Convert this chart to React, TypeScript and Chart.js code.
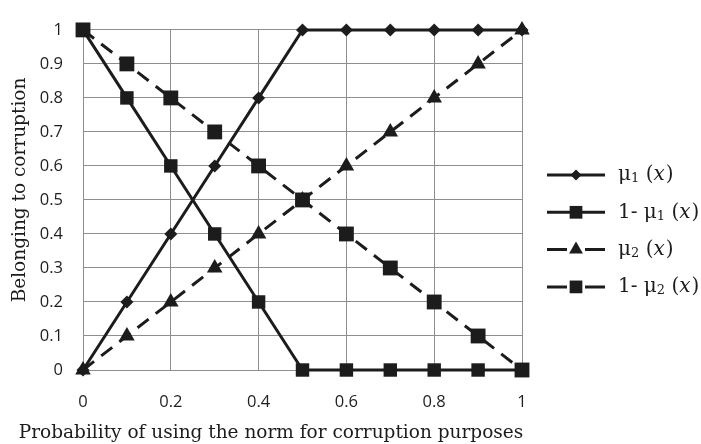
import React, { useEffect, useRef } from 'react';
import { Chart, registerables } from 'chart.js';

Chart.register(...registerables);

const xValues = [0, 0.1, 0.2, 0.3, 0.4, 0.5, 0.6, 0.7, 0.8, 0.9, 1];
const mu1 = [0, 0.2, 0.4, 0.6, 0.8, 1, 1, 1, 1, 1, 1];
const oneMinusMu1 = [1, 0.8, 0.6, 0.4, 0.2, 0, 0, 0, 0, 0, 0];
const mu2 = [0, 0.1, 0.2, 0.3, 0.4, 0.5, 0.6, 0.7, 0.8, 0.9, 1];
const oneMinusMu2 = [1, 0.9, 0.8, 0.7, 0.6, 0.5, 0.4, 0.3, 0.2, 0.1, 0];
const xTicks = [0, 0.2, 0.4, 0.6, 0.8, 1];
const yTicks = [0, 0.1, 0.2, 0.3, 0.4, 0.5, 0.6, 0.7, 0.8, 0.9, 1];
const legendPrefixes = ['', '1- ', '', '1- '];
const legendSubs = ['1', '1', '2', '2'];
const xTitle = 'Probability of using the norm for corruption purposes';
const yTitle = 'Belonging to corruption';

const INK = '#1c1c1c';
const GRID = '#8e8e8e';
const SERIF = '"DejaVu Serif", serif';

function drawMarker(ctx: CanvasRenderingContext2D, style: string, x: number, y: number, r: number) {
  ctx.beginPath();
  if (style === 'rectRot') {
    ctx.moveTo(x, y - r);
    ctx.lineTo(x + r, y);
    ctx.lineTo(x, y + r);
    ctx.lineTo(x - r, y);
    ctx.closePath();
  } else if (style === 'triangle') {
    const w = r * Math.sqrt(3) / 2;
    ctx.moveTo(x, y - r);
    ctx.lineTo(x + w, y + r / 2);
    ctx.lineTo(x - w, y + r / 2);
    ctx.closePath();
  } else {
    const s = r * Math.SQRT1_2;
    ctx.rect(x - s, y - s, 2 * s, 2 * s);
  }
  ctx.fillStyle = INK;
  ctx.fill();
}

const overlayPlugin = {
  id: 'overlay',
  afterDraw(chart: any) {
    const ctx: CanvasRenderingContext2D = chart.ctx;
    ctx.save();
    // axis titles
    ctx.fillStyle = INK;
    ctx.font = `18.5px ${SERIF}`;
    ctx.textAlign = 'center';
    ctx.textBaseline = 'alphabetic';
    ctx.fillText(xTitle, 271, 438);
    ctx.save();
    ctx.translate(25, 190);
    ctx.rotate(-Math.PI / 2);
    ctx.fillText(yTitle, 0, 0);
    ctx.restore();

    // legend
    const legendMarkerR = [5.5, 9, 8, 9];
    chart.data.datasets.forEach((ds: any, i: number) => {
      const y = 175 + i * 37.3;
      ctx.save();
      ctx.strokeStyle = INK;
      ctx.lineWidth = 3;
      ctx.setLineDash(ds.borderDash && ds.borderDash.length ? [20, 18] : []);
      ctx.beginPath();
      ctx.moveTo(547, y);
      ctx.lineTo(605, y);
      ctx.stroke();
      ctx.restore();
      drawMarker(ctx, ds.pointStyle, 576, y, legendMarkerR[i]);

      // label text
      let x = 618;
      ctx.fillStyle = INK;
      ctx.textAlign = 'left';
      ctx.textBaseline = 'middle';
      ctx.font = `20px ${SERIF}`;
      const pre = legendPrefixes[i] + '\u03bc';
      ctx.fillText(pre, x, y);
      x += ctx.measureText(pre).width;
      ctx.font = `13px ${SERIF}`;
      ctx.fillText(legendSubs[i], x, y + 4);
      x += ctx.measureText(legendSubs[i]).width;
      ctx.font = `20px ${SERIF}`;
      ctx.fillText(' (', x, y);
      x += ctx.measureText(' (').width;
      ctx.font = `italic 20px ${SERIF}`;
      ctx.fillText('x', x, y);
      x += ctx.measureText('x').width + 1;
      ctx.font = `20px ${SERIF}`;
      ctx.fillText(')', x, y);
    });
    ctx.restore();
  },
};

export default function App() {
  const canvasRef = useRef<HTMLCanvasElement | null>(null);

  useEffect(() => {
    document.body.style.margin = '0';
    const canvas = canvasRef.current;
    if (!canvas) return;
    const toPts = (arr: number[]) => arr.map((v, i) => ({ x: xValues[i], y: v }));
    const base = {
      borderColor: INK,
      backgroundColor: INK,
      pointBackgroundColor: INK,
      pointBorderColor: INK,
      pointBorderWidth: 0,
      borderWidth: 3,
      tension: 0,
      clip: false as any,
    };
    const chart = new Chart(canvas, {
      type: 'line',
      data: {
        datasets: [
          { ...base, label: 'μ1 (x)', data: toPts(mu1), pointStyle: 'rectRot', pointRadius: 6.5, borderDash: [] },
          { ...base, label: '1- μ1 (x)', data: toPts(oneMinusMu1), pointStyle: 'rect', pointRadius: 9.5, borderDash: [] },
          { ...base, label: 'μ2 (x)', data: toPts(mu2), pointStyle: 'triangle', pointRadius: 9, borderDash: [14, 9] },
          { ...base, label: '1- μ2 (x)', data: toPts(oneMinusMu2), pointStyle: 'rect', pointRadius: 10.5, borderDash: [14, 9] },
        ],
      },
      options: {
        responsive: false,
        animation: false,
        devicePixelRatio: 1,
        layout: { padding: { left: 0, top: 22, right: 179, bottom: 0 } },
        plugins: { legend: { display: false }, tooltip: { enabled: false } },
        scales: {
          x: {
            type: 'linear',
            min: 0,
            max: 1,
            afterBuildTicks: (s: any) => { s.ticks = xTicks.map((v) => ({ value: v })); },
            afterFit: (s: any) => { s.height = 74; },
            grid: { color: GRID, lineWidth: 1, drawTicks: false },
            border: { color: GRID, width: 1 },
            ticks: {
              padding: 22,
              color: '#1e1e1e',
              font: { family: '"Open Sans", sans-serif', size: 16.5 },
              callback: (v: any) => String(Math.round(Number(v) * 10) / 10),
            },
          },
          y: {
            type: 'linear',
            min: 0,
            max: 1,
            afterBuildTicks: (s: any) => { s.ticks = yTicks.map((v) => ({ value: v })); },
            afterFit: (s: any) => { s.width = 83; },
            grid: { color: GRID, lineWidth: 1, drawTicks: false },
            border: { color: GRID, width: 1 },
            ticks: {
              padding: 20,
              color: '#1e1e1e',
              font: { family: '"Open Sans", sans-serif', size: 16.5 },
              callback: (v: any) => String(Math.round(Number(v) * 10) / 10),
            },
          },
        },
      },
      plugins: [overlayPlugin],
    });
    return () => chart.destroy();
  }, []);

  return (
    <div style={{ width: 701, height: 444 }}>
      <canvas ref={canvasRef} width={701} height={444} />
    </div>
  );
}
